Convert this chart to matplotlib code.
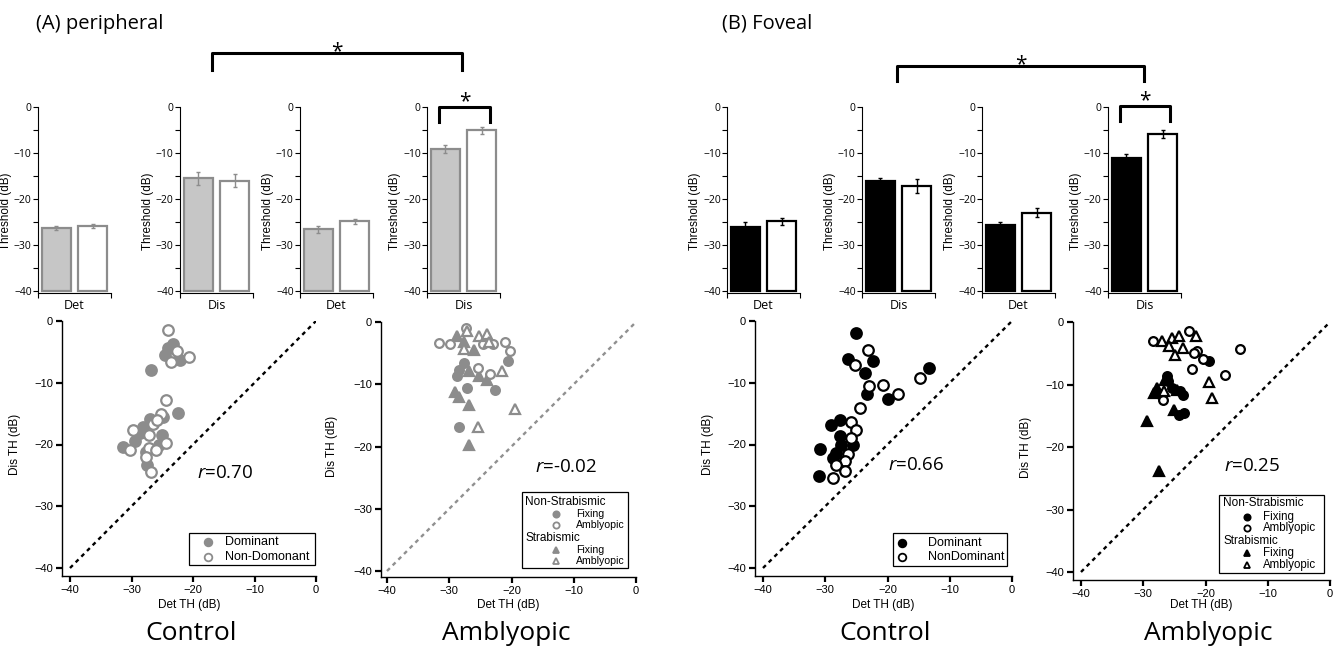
import numpy as np
import matplotlib.pyplot as plt
from matplotlib.lines import Line2D
from matplotlib.patches import Rectangle

plt.rcParams['font.family'] = ['Liberation Sans', 'DejaVu Sans']
plt.rcParams['mathtext.fontset'] = 'custom'
plt.rcParams['mathtext.it'] = 'Open Sans:italic'
plt.rcParams['mathtext.rm'] = 'Open Sans'

W, H = 1336, 649
HUM = 'Open Sans'

# ---- bar data (eye1 = dominant / fixing, eye2 = non-dominant / amblyopic)
bar_tasks = ['Det', 'Dis', 'Det', 'Dis']
peri_mean1 = [-26.3, -15.5, -26.6, -9.1]
peri_mean2 = [-25.9, -16.0, -24.9, -5.1]
peri_err1 = [0.5, 1.4, 0.7, 0.8]
peri_err2 = [0.5, 1.4, 0.6, 0.8]
fov_mean1 = [-26.1, -16.2, -25.6, -11.0]
fov_mean2 = [-24.9, -17.2, -23.0, -5.8]
fov_err1 = [1.1, 0.8, 0.5, 0.8]
fov_err2 = [0.8, 1.5, 1.0, 0.9]

# ---- scatter data: peripheral control
pc_dom_x = [-24.0, -23.2, -24.6, -22.1, -26.9, -22.4, -27.0, -28.1, -28.6, -25.1,
            -29.4, -31.4, -27.6, -27.5, -25.6, -24.8]
pc_dom_y = [-4.4, -3.8, -5.5, -6.3, -7.9, -14.9, -15.8, -17.1, -18.2, -18.5,
            -19.5, -20.4, -21.2, -23.3, -20.0, -15.5]
pc_non_x = [-24.0, -22.6, -20.6, -23.6, -24.4, -25.2, -26.5, -29.7, -27.2, -24.4,
            -30.2, -27.1, -26.0, -27.6, -26.8, -25.8]
pc_non_y = [-1.5, -4.9, -5.8, -6.6, -12.8, -15.1, -16.6, -17.7, -18.5, -19.7,
            -20.9, -20.6, -20.9, -22.0, -24.5, -16.0]

# peripheral amblyopic
pa_nsfix_x = [-27.7, -20.6, -28.5, -28.8, -27.2, -22.6, -28.5]
pa_nsfix_y = [-6.6, -6.3, -7.7, -8.7, -10.6, -10.9, -16.8]
pa_nsamb_x = [-27.3, -31.7, -29.9, -22.9, -21.0, -20.2, -25.4, -23.4, -24.5]
pa_nsamb_y = [-1.0, -3.4, -3.5, -3.5, -3.2, -4.6, -7.4, -8.4, -3.6]
pa_sfix_x = [-28.8, -27.7, -26.0, -26.9, -25.3, -24.0, -28.5, -29.0, -26.9, -26.9]
pa_sfix_y = [-2.3, -3.2, -4.5, -7.9, -8.7, -9.3, -12.0, -11.3, -13.4, -19.7]
pa_samb_x = [-27.2, -25.3, -24.0, -27.7, -23.6, -21.6, -19.4, -25.4]
pa_samb_y = [-1.5, -2.3, -1.9, -4.3, -3.2, -7.9, -13.9, -16.8]

# foveal control
fc_dom_x = [-25.1, -26.3, -22.3, -23.6, -23.3, -19.9, -13.4, -27.6, -29.0, -27.6,
            -27.4, -25.6, -30.8, -28.2, -28.7, -31.0]
fc_dom_y = [-1.9, -6.1, -6.4, -8.4, -11.9, -12.7, -7.6, -16.0, -16.9, -18.7,
            -20.0, -20.0, -20.8, -21.4, -22.2, -25.1]
fc_non_x = [-23.1, -25.2, -22.9, -20.8, -18.3, -24.4, -14.8, -25.8, -25.0, -25.8,
            -26.3, -26.8, -28.3, -26.8, -28.8]
fc_non_y = [-4.7, -7.1, -10.6, -10.3, -11.8, -14.1, -9.2, -16.3, -17.6, -18.9,
            -21.6, -22.7, -23.3, -24.3, -25.4]

# foveal amblyopic
fa_nsfix_x = [-26.2, -26.0, -24.1, -23.6, -25.4, -27.3, -24.3, -23.5, -19.5]
fa_nsfix_y = [-8.7, -9.5, -11.1, -11.7, -10.6, -11.5, -14.9, -14.6, -6.2]
fa_nsamb_x = [-28.4, -22.6, -21.4, -21.9, -20.4, -14.4, -22.2, -16.8, -26.8]
fa_nsamb_y = [-3.0, -1.4, -4.6, -5.0, -5.9, -4.3, -7.5, -8.4, -12.5]
fa_sfix_x = [-27.8, -28.3, -26.5, -25.0, -29.4, -27.4, -24.6]
fa_sfix_y = [-10.6, -11.3, -9.2, -14.1, -15.9, -23.9, -10.9]
fa_samb_x = [-27.0, -25.4, -24.3, -25.9, -23.6, -24.9, -21.5, -19.4, -19.0, -26.7]
fa_samb_y = [-3.1, -2.5, -2.2, -3.9, -4.1, -5.2, -2.2, -9.6, -12.1, -11.1]

r_values = ['0.70', '-0.02', '0.66', '0.25']

GRAY = '#8c8c8c'
LGRAY = '#c6c6c6'

fig = plt.figure(figsize=(W / 100, H / 100), dpi=100)


def fx(px):
    return px / W


def fy(py):
    return 1 - py / H


def bar_panel(left, m1, m2, e1, e2, task, fill, edge):
    ax = fig.add_axes([fx(left), fy(293), 73 / W, 186 / H])
    ax.bar([0.25, 0.75], [m1 + 40, m2 + 40], bottom=-40, width=0.4,
           color=[fill, 'white'], edgecolor=edge, linewidth=1.6,
           yerr=[e1, e2], error_kw=dict(ecolor=edge, elinewidth=1,
                                        capsize=1.5, capthick=1))
    ax.set_xlim(0, 1)
    ax.set_ylim(-40.45, 0)
    for s in ['top', 'right']:
        ax.spines[s].set_visible(False)
    ax.spines['left'].set_bounds(-40.45, 0)
    ax.set_yticks([0, -10, -20, -30, -40])
    ax.set_yticks([-5, -15, -25, -35], minor=True)
    ax.set_xticks([0, 1])
    ax.set_xticklabels([])
    ax.tick_params(direction='out', length=3.5, width=0.8, labelsize=7.5, pad=1)
    ax.tick_params(which='minor', direction='out', length=3.5, width=0.8)
    for lab in ax.get_yticklabels():
        lab.set_fontfamily(HUM)
    ax.set_xlabel(task, fontsize=9, fontfamily=HUM, labelpad=0)
    ax.set_ylabel('Threshold (dB)', fontsize=8.4)
    ax.yaxis.set_label_coords(-26 / 73, 0.44)
    return ax


def scatter_panel(box, off, groups, rtxt, rpos, dcol):
    # box = pixel position of the -40..0 square, off = spine offset in px
    l, t, r, b = box
    ax = fig.add_axes([fx(l - off), fy(b + off), (r - l + off) / W,
                       (b - t + off) / H])
    ax.set_xlim(-40 - off * 40 / (r - l), 0)
    ax.set_ylim(-40 - off * 40 / (b - t), 0)
    ax.plot([-40, 0], [-40, 0], color=dcol, lw=1.7, ls=(0, (1.7, 1.7)))
    for x, y, mk, face, edge, ms in groups:
        ax.plot(x, y, ls='none', marker=mk, ms=ms, mfc=face, mec=edge,
                mew=1.6, clip_on=False)
    for s in ['top', 'right']:
        ax.spines[s].set_visible(False)
    for s in ['left', 'bottom']:
        ax.spines[s].set_linewidth(1)
    ax.set_xticks([-40, -30, -20, -10, 0])
    ax.set_yticks([0, -10, -20, -30, -40])
    ax.tick_params(direction='out', length=4.5, width=1.6, labelsize=8, pad=2)
    ax.set_xlabel('Det TH (dB)', fontsize=8.5)
    ax.xaxis.set_label_coords(0.5, -(599 - b - off) / (b - t + off))
    ax.set_ylabel('Dis TH (dB)', fontsize=8.5)
    ax.yaxis.set_label_coords(-(49 - off) / (r - l + off),
                              (0.5 * (b - t) + off) / (b - t + off))
    ax.text(rpos[0], rpos[1], '$r$=' + rtxt, fontsize=13.5, fontfamily=HUM,
            va='center', ha='left')
    return ax


def key_box(x0, y0, x1, y1):
    fig.add_artist(Rectangle((fx(x0), fy(y1)), (x1 - x0) / W, (y1 - y0) / H,
                             transform=fig.transFigure, facecolor='white',
                             edgecolor='black', lw=0.9))


def key_item(xm, xt, y, mk, face, edge, label, ms, fs):
    fig.add_artist(Line2D([fx(xm)], [fy(y)], marker=mk, ms=ms, mfc=face,
                          mec=edge, mew=1.3, ls='none',
                          transform=fig.transFigure))
    fig.text(fx(xt), fy(y), label, va='center', ha='left', fontsize=fs)


def bracket(x0, x1, ytop, ybot, star_y):
    fig.add_artist(Line2D([fx(x0), fx(x0), fx(x1), fx(x1)],
                          [fy(ybot), fy(ytop), fy(ytop), fy(ybot)],
                          color='black', lw=2.2, transform=fig.transFigure))
    fig.text(fx((x0 + x1) / 2), fy(star_y), '*', fontsize=15, fontfamily=HUM,
             ha='center', va='center')


# ---------- top row bars
peri_lefts = [38, 180, 300, 427]
fov_lefts = [727, 862, 982, 1108]
for i in range(4):
    bar_panel(peri_lefts[i], peri_mean1[i], peri_mean2[i], peri_err1[i],
              peri_err2[i], bar_tasks[i], LGRAY, GRAY)
    bar_panel(fov_lefts[i], fov_mean1[i], fov_mean2[i], fov_err1[i],
              fov_err2[i], bar_tasks[i], 'black', 'black')

bracket(212, 462, 53, 70, 52)
bracket(439, 490, 107, 122, 102)
bracket(897, 1144, 66, 81, 65)
bracket(1120, 1170, 106, 121, 101)

fig.text(fx(36), fy(24), '(A) peripheral', fontsize=14.5, fontfamily=HUM,
         va='center', ha='left')
fig.text(fx(722), fy(24), '(B) Foveal', fontsize=14.5, fontfamily=HUM,
         va='center', ha='left')

# ---------- scatter panels
scatter_panel((70, 321, 316, 568), 8,
              [(pc_dom_x, pc_dom_y, 'o', GRAY, GRAY, 7.6),
               (pc_non_x, pc_non_y, 'o', 'white', GRAY, 7.6)],
              r_values[0], (-19.3, -24.6), 'black')
scatter_panel((387, 322, 636, 571), 6,
              [(pa_nsfix_x, pa_nsfix_y, 'o', GRAY, GRAY, 6.3),
               (pa_sfix_x, pa_sfix_y, '^', GRAY, GRAY, 7.2),
               (pa_nsamb_x, pa_nsamb_y, 'o', 'white', GRAY, 6.3),
               (pa_samb_x, pa_samb_y, '^', 'white', GRAY, 7.2)],
              r_values[1], (-16.3, -23.3), '#909090')
scatter_panel((763, 321, 1012, 568), 8,
              [(fc_dom_x, fc_dom_y, 'o', 'black', 'black', 7.6),
               (fc_non_x, fc_non_y, 'o', 'white', 'black', 7.6)],
              r_values[2], (-20.0, -23.3), 'black')
scatter_panel((1081, 322, 1330, 572), 8,
              [(fa_nsfix_x, fa_nsfix_y, 'o', 'black', 'black', 6.3),
               (fa_sfix_x, fa_sfix_y, '^', 'black', 'black', 7.2),
               (fa_nsamb_x, fa_nsamb_y, 'o', 'white', 'black', 6.3),
               (fa_samb_x, fa_samb_y, '^', 'white', 'black', 7.2)],
              r_values[3], (-17.0, -23.0), 'black')

# ---------- legends
key_box(189, 533, 315, 565)
key_item(208, 225, 542, 'o', GRAY, GRAY, 'Dominant', 5.5, 9)
key_item(208, 225, 557, 'o', 'white', GRAY, 'Non-Domonant', 5.5, 9)

key_box(522, 492, 628, 568)
fig.text(fx(525), fy(502), 'Non-Strabismic', va='center', fontsize=8.5)
key_item(556, 576, 514, 'o', GRAY, GRAY, 'Fixing', 4.5, 7.6)
key_item(556, 576, 525, 'o', 'white', GRAY, 'Amblyopic', 4.5, 7.6)
fig.text(fx(525), fy(538), 'Strabismic', va='center', fontsize=8.5)
key_item(556, 576, 550, '^', GRAY, GRAY, 'Fixing', 5, 7.6)
key_item(556, 576, 561, '^', 'white', GRAY, 'Amblyopic', 5, 7.6)

key_box(893, 533, 1007, 566)
key_item(902, 928, 543, 'o', 'black', 'black', 'Dominant', 5.5, 9)
key_item(902, 928, 557, 'o', 'white', 'black', 'NonDominant', 5.5, 9)

key_box(1219, 495, 1324, 573)
fig.text(fx(1223), fy(503), 'Non-Strabismic', va='center', fontsize=8.5)
key_item(1247, 1263, 517, 'o', 'black', 'black', 'Fixing', 4.5, 8.3)
key_item(1247, 1263, 528, 'o', 'white', 'black', 'Amblyopic', 4.5, 8.3)
fig.text(fx(1223), fy(541), 'Strabismic', va='center', fontsize=8.5)
key_item(1247, 1263, 553, '^', 'black', 'black', 'Fixing', 5, 8.3)
key_item(1247, 1263, 565, '^', 'white', 'black', 'Amblyopic', 5, 8.3)

# ---------- group names
for xc, name in [(191, 'Control'), (506, 'Amblyopic'),
                 (885, 'Control'), (1208, 'Amblyopic')]:
    fig.text(fx(xc), fy(633), name, fontsize=19, fontfamily=HUM,
             ha='center', va='center')

fig.savefig('out.png', dpi=100)
